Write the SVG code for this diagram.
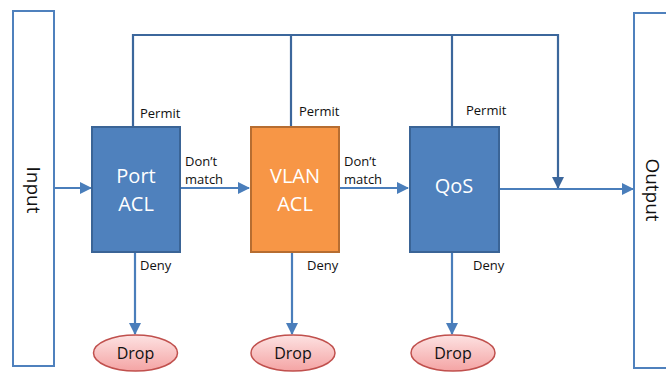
<svg xmlns="http://www.w3.org/2000/svg" width="666" height="373" viewBox="0 0 666 373">
<style>
.io{fill:#fff;stroke:#4f81bd;stroke-width:2}
.blue{fill:#4f81bd;stroke:#3a6496;stroke-width:2}
.orange{fill:#f79646;stroke:#b66d31;stroke-width:2}
.drop{fill:url(#dg);stroke:#c0504d;stroke-width:1.5}
.ln{fill:none;stroke:#4a7ebb;stroke-width:2.2}
.dk{fill:none;stroke:#3c679c;stroke-width:2.2}
.lbl{font-family:"Open Sans","Liberation Sans",sans-serif;font-size:13px;fill:#111}
.box{font-family:"Open Sans","Liberation Sans",sans-serif;font-size:20px;fill:#fff;text-anchor:middle}
.dt{font-family:"Open Sans","Liberation Sans",sans-serif;font-size:16px;fill:#111;text-anchor:middle}
.io-t{font-family:"Open Sans","Liberation Sans",sans-serif;font-size:19px;fill:#111;text-anchor:middle}
</style>
<defs>
<linearGradient id="dg" x1="0" y1="0" x2="0" y2="1">
<stop offset="0" stop-color="#fde2e2"/>
<stop offset="1" stop-color="#f4a4a4"/>
</linearGradient>
<marker id="ah" markerWidth="12" markerHeight="12" refX="11" refY="6" orient="auto" markerUnits="userSpaceOnUse">
<path d="M0,0 L12,6 L0,12 Z" fill="#4a7ebb"/>
</marker>
<marker id="ahd" markerWidth="12" markerHeight="12" refX="11" refY="6" orient="auto" markerUnits="userSpaceOnUse">
<path d="M0,0 L12,6 L0,12 Z" fill="#3c679c"/>
</marker>
</defs>
<g id="connectors">
<path class="dk" d="M133,127 V35 H558 V188" marker-end="url(#ahd)"/>
<path class="dk" d="M291,127 V35"/>
<path class="dk" d="M452,127 V35"/>
<path class="ln" d="M54,188 H91" marker-end="url(#ah)"/>
<path class="ln" d="M180,188 H249" marker-end="url(#ah)"/>
<path class="ln" d="M339,188 H408" marker-end="url(#ah)"/>
<path class="ln" d="M499,189 H633" marker-end="url(#ah)"/>
<path class="ln" d="M135,252 V334" marker-end="url(#ah)"/>
<path class="ln" d="M292,252 V334" marker-end="url(#ah)"/>
<path class="ln" d="M452,252 V334" marker-end="url(#ah)"/>
<text class="lbl" x="140" y="118">Permit</text>
<text class="lbl" x="299" y="116">Permit</text>
<text class="lbl" x="466" y="115">Permit</text>
<text class="lbl" x="185" y="166">Don’t</text>
<text class="lbl" x="185" y="184">match</text>
<text class="lbl" x="344" y="166">Don’t</text>
<text class="lbl" x="344" y="184">match</text>
<text class="lbl" x="140" y="270">Deny</text>
<text class="lbl" x="307" y="270">Deny</text>
<text class="lbl" x="473" y="270">Deny</text>
</g>
<g id="input">
<rect class="io" x="13" y="11" width="41" height="355"/>
<text class="io-t" transform="translate(27,190) rotate(90)">Input</text>
</g>
<g id="output">
<rect class="io" x="634" y="13" width="40" height="355"/>
<text class="io-t" transform="translate(646,190) rotate(90)">Output</text>
</g>
<g id="port-acl">
<rect class="blue" x="92" y="127" width="88" height="125"/>
<text class="box" x="136" y="183">Port</text>
<text class="box" x="136" y="211">ACL</text>
</g>
<g id="vlan-acl">
<rect class="orange" x="251" y="127" width="88" height="125"/>
<text class="box" x="295" y="183">VLAN</text>
<text class="box" x="295" y="211">ACL</text>
</g>
<g id="qos">
<rect class="blue" x="410" y="127" width="89" height="125"/>
<text class="box" x="454" y="193">QoS</text>
</g>
<g id="drop1">
<ellipse class="drop" cx="135.5" cy="353" rx="42" ry="18"/>
<text class="dt" x="135.5" y="359">Drop</text>
</g>
<g id="drop2">
<ellipse class="drop" cx="293" cy="353" rx="42" ry="18"/>
<text class="dt" x="293" y="359">Drop</text>
</g>
<g id="drop3">
<ellipse class="drop" cx="453" cy="353" rx="42" ry="18"/>
<text class="dt" x="453" y="359">Drop</text>
</g>
</svg>
